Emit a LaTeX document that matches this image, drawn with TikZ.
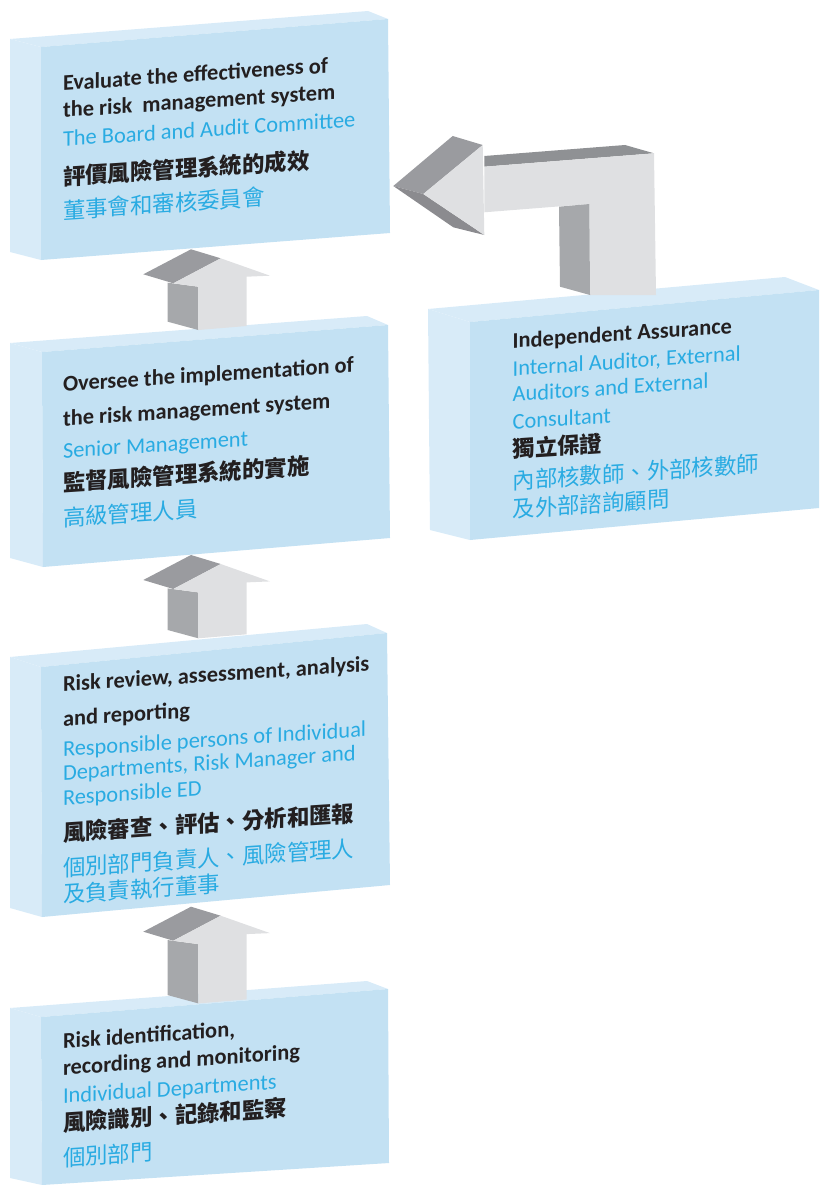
\documentclass[tikz,border=0pt]{standalone}
\usepackage{fontspec}
\setmainfont{Carlito}
\newfontfamily\cjk{Noto Sans CJK TC}
\definecolor{boxfront}{HTML}{C3E1F3}
\definecolor{boxside}{HTML}{D8EBF8}
\definecolor{txtblue}{HTML}{29ABE2}
\definecolor{txtblack}{HTML}{231F20}
\definecolor{arrlight}{HTML}{DFE0E2}
\definecolor{arrdark}{HTML}{9A9B9F}
\definecolor{arrdarker}{HTML}{8F9194}
\definecolor{arrmid}{HTML}{A6A8AB}
\tikzset{
  front/.style={fill=boxfront},
  side/.style={fill=boxside},
  alight/.style={fill=arrlight},
  adark/.style={fill=arrdark},
  adarker/.style={fill=arrdarker},
  amid/.style={fill=arrmid},
  eng/.style={anchor=base west, inner sep=0pt, outer sep=0pt, yslant=0.067, transform shape,
    font=\fontsize{22.4}{26}\selectfont, text=txtblue},
  engb/.style={eng, font=\fontsize{22.4}{26}\selectfont\bfseries, text=txtblack},
  chi/.style={eng, font=\cjk\fontsize{22.4}{26}\selectfont},
  chib/.style={eng, font=\cjk\fontsize{22.4}{26}\selectfont\bfseries, text=txtblack},
}
\newcommand\smallarrow[2]{%
  \begin{scope}[shift={(0,#1)}]
    \fill[amid] (167.7,282.7) -- (198.3,286.7) -- (198.3,{330+#2}) -- (167.7,{321.7+#2}) -- cycle;
    \fill[adark] (143.3,274.3) -- (191,249.3) -- (220.7,258.3) -- (173.3,283.3) -- cycle;
    \fill[alight] (173.3,283.3) -- (220.7,258.3) -- (270,275.7) -- (246.7,276.7) -- (246.7,{326+#2})
      -- (198.3,{330+#2}) -- (198.3,286.7) -- cycle;
  \end{scope}}
\begin{document}
\begin{tikzpicture}[x=1pt,y=-1pt]
\useasboundingbox (0,0) rectangle (819,1185);
% box 1
\fill[side] (10,39) -- (368,11) -- (388,19) -- (41,47) -- cycle;
\fill[side] (10,39) -- (41,47) -- (41,260) -- (10,252) -- cycle;
\fill[front] (41,47) -- (388,19) -- (390,233) -- (41,260) -- cycle;
% box 2
\fill[side] (10,343) -- (367,316) -- (388,325) -- (42,352) -- cycle;
\fill[side] (10,343) -- (42,352) -- (43,567) -- (10,558) -- cycle;
\fill[front] (42,352) -- (388,325) -- (390,538) -- (43,567) -- cycle;
% box 3
\fill[side] (10,657) -- (367,624) -- (387,633) -- (41,667) -- cycle;
\fill[side] (10,657) -- (41,667) -- (42,917) -- (10,908) -- cycle;
\fill[front] (41,667) -- (387,633) -- (390,885) -- (42,917) -- cycle;
% box 4
\fill[side] (10,1008) -- (367,981) -- (388,989) -- (41,1017) -- cycle;
\fill[side] (10,1008) -- (41,1017) -- (42,1185) -- (10,1178) -- cycle;
\fill[front] (41,1017) -- (388,989) -- (389,1163) -- (42,1185) -- cycle;
% independent box
\fill[side] (428,309) -- (785,277) -- (819,290) -- (470,322) -- cycle;
\fill[side] (428,309) -- (470,322) -- (470,540) -- (430,530) -- cycle;
\fill[front] (470,322) -- (819,290) -- (819,508) -- (470,540) -- cycle;
% small arrows
\smallarrow{0}{0}
\smallarrow{305.7}{2.6}
\smallarrow{657.4}{16}
% big L arrow
\fill[adarker] (484.3,156) -- (625,145) -- (654,153.3) -- (484.3,166.7) -- cycle;
\fill[adark] (393.3,186) -- (452.7,136) -- (482.7,145) -- (423.3,194) -- cycle;
\fill[arrdark!90!black] (393.3,186) -- (423.3,194) -- (484.3,235) -- (453.3,227.3) -- cycle;
\fill[alight] (423.3,194) -- (482.7,145) -- (484.3,235) -- cycle;
\fill[alight] (484.3,166.7) -- (654,153.3) -- (656,295) -- (590,295) -- (589.3,204) -- (484.3,212.3) -- cycle;
\fill[amid] (559,206.7) -- (589.3,204) -- (590,295) -- (560,286.7) -- cycle;
% texts box 1
\node[engb] (a1) at (63,90.5) {Evaluate the effectiveness of};
\node[engb] (a2) at (63,117.5) {the risk\ \ management system};
\node[eng]  (a3) at (63,146.5) {The Board and Audit Committee};
\node[chib] (a4) at (63,185.5) {評價風險管理系統的成效};
\node[chi]  (a5) at (63,219) {董事會和審核委員會};
% texts box 2
\node[engb] (b1) at (63,391.7) {Oversee the implementation of};
\node[engb] (b2) at (63,426) {the risk management system};
\node[eng]  (b3) at (63,458.3) {Senior Management};
\node[chib] (b4) at (63,491) {監督風險管理系統的實施};
\node[chi]  (b5) at (63,526) {高級管理人員};
% texts box 3
\node[engb] (c1) at (63,691.7) {Risk review, assessment, analysis};
\node[engb] (c2) at (63,726) {and reporting};
\node[eng]  (c3) at (63,756.7) {Responsible persons of Individual};
\node[eng]  (c4) at (63,780) {Departments, Risk Manager and};
\node[eng]  (c5) at (63,805) {Responsible ED};
\node[chib] (c6) at (63,841) {風險審查、評估、分析和匯報};
\node[chi]  (c7) at (63,876) {個別部門負責人、風險管理人};
\node[chi]  (c8) at (63,902.5) {及負責執行董事};
% texts box 4
\node[engb] (d1) at (63,1048.3) {Risk identification,};
\node[engb] (d2) at (63,1075) {recording and monitoring};
\node[eng]  (d3) at (63,1103.3) {Individual Departments};
\node[chib] (d4) at (63,1131) {風險識別、記錄和監察};
\node[chi]  (d5) at (63,1166) {個別部門};
% texts independent
\node[engb] (e1) at (512.7,348.3) {Independent Assurance};
\node[eng]  (e2) at (512.7,376) {Internal Auditor, External};
\node[eng]  (e3) at (512.7,401.7) {Auditors and External};
\node[eng]  (e4) at (512.7,429.3) {Consultant};
\node[chib] (e5) at (512.7,457.5) {獨立保證};
\node[chi]  (e6) at (512.7,489) {內部核數師、外部核數師};
\node[chi]  (e7) at (512.7,517.5) {及外部諮詢顧問};
\end{tikzpicture}
\end{document}
